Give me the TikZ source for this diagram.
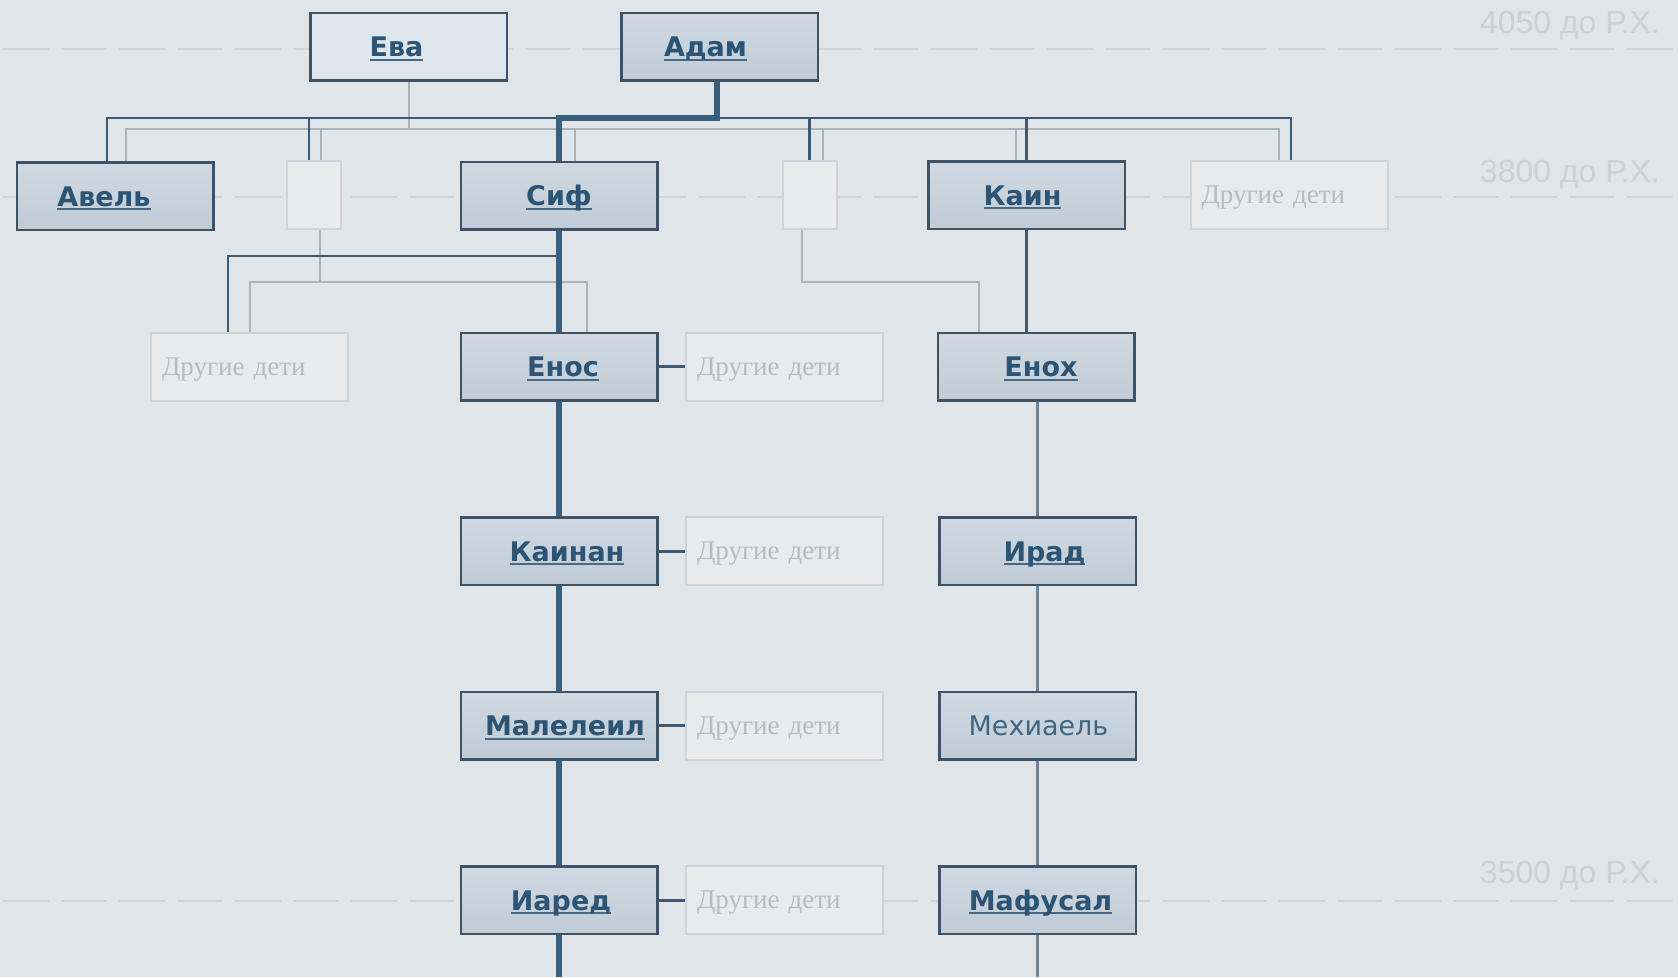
\documentclass[tikz,border=0pt]{standalone}
\usepackage{fontspec}
\newfontfamily\boxfont{DejaVu Sans}
\newfontfamily\grayfont{Liberation Serif}
\newfontfamily\timefont{Liberation Sans}
\definecolor{bg}{RGB}{224,229,233}
\definecolor{boxtop}{RGB}{208,217,225}
\definecolor{boxbot}{RGB}{192,203,213}
\definecolor{evefill}{RGB}{221,230,236}
\definecolor{boxdraw}{RGB}{62,84,102}
\definecolor{txt}{RGB}{44,85,117}
\definecolor{txtline}{RGB}{70,105,135}
\definecolor{othfill}{RGB}{232,234,236}
\definecolor{othdraw}{RGB}{205,211,216}
\definecolor{othtxt}{RGB}{182,188,194}
\definecolor{lndark}{RGB}{63,90,112}
\definecolor{lnlight}{RGB}{170,180,188}
\definecolor{lnthick}{RGB}{58,95,125}
\definecolor{lngray}{RGB}{112,130,145}
\definecolor{tldash}{RGB}{208,213,217}
\definecolor{tltxt}{RGB}{204,209,213}
\newcommand\ulname[1]{\setbox0\hbox{#1}\rlap{\raisebox{-4pt}{\color{txtline}\rule{\wd0}{1.6pt}}}\box0}
\newcommand\shiftname[2]{\hspace*{#1}#2\hspace*{-#1}}
\tikzset{
  person/.style={draw=boxdraw, line width=2.5pt, top color=boxtop, bottom color=boxbot,
    minimum width=196.5pt, minimum height=67.5pt, inner sep=0pt,
    font=\boxfont\bfseries\fontsize{27}{30}\selectfont, text=txt,
    text height=26pt, text depth=6pt},
  evebox/.style={draw=boxdraw, line width=2.5pt, fill=evefill,
    minimum width=196.5pt, minimum height=67.5pt, inner sep=0pt,
    font=\boxfont\bfseries\fontsize{27}{30}\selectfont, text=txt,
    text height=26pt, text depth=6pt},
  plainperson/.style={person, font=\boxfont\fontsize{27}{30}\selectfont, text=txt!90!white},
  other/.style={draw=othdraw, line width=2pt, fill=othfill,
    minimum width=197pt, minimum height=68pt, inner xsep=11pt, inner ysep=0pt,
    text width=175pt, align=left,
    font=\grayfont\fontsize{27}{30}\selectfont, text=othtxt,
    text height=22.5pt, text depth=5.5pt},
  blank/.style={draw=othdraw, line width=2pt, fill=othfill,
    minimum width=54pt, minimum height=68pt, inner sep=0pt},
  darkln/.style={draw=lndark, line width=2.5pt},
  lightln/.style={draw=lnlight, line width=2pt},
  thickln/.style={draw=lnthick, line width=6.5pt},
  grayln/.style={draw=lngray, line width=2.2pt},
  tick/.style={draw=lndark, line width=3pt},
  tline/.style={draw=tldash, line width=2.5pt, dash pattern=on 46pt off 12pt},
  tlabel/.style={font=\timefont\fontsize{32}{34}\selectfont, text=tltxt, inner sep=0pt, anchor=base east}
}
\begin{document}
\begin{tikzpicture}[x=1pt,y=-1pt]
\useasboundingbox (0,0) rectangle (1678,977);
\fill[bg] (0,0) rectangle (1678,977);
% timeline dashes
\draw[tline] (3,49) -- (1678,49);
\draw[tline] (3,197) -- (1678,197);
\draw[tline] (3,901) -- (1678,901);
\node[tlabel] (t1) at (1660,33) {4050 до Р.Х.};
\node[tlabel] (t2) at (1660,182) {3800 до Р.Х.};
\node[tlabel] (t3) at (1660,883) {3500 до Р.Х.};
% row 1
\node[evebox] (eva) at (408.5,46.5) {\shiftname{-12pt}{\ulname{Ева}}};
\node[person] (adam) at (719.5,46.5) {\shiftname{-14pt}{\ulname{Адам}}};
% row 2
\node[person] (abel) at (115,196) {\shiftname{-11pt}{\ulname{Авель}}};
\node[blank] (sm1) at (314,195) {};
\node[person] (seth) at (559,195.5) {\ulname{Сиф}};
\node[blank] (sm2) at (809.5,195) {};
\node[person] (cain) at (1026.5,195) {\shiftname{-4pt}{\ulname{Каин}}};
\node[other] (ocTop) at (1289,195) {Другие дети};
% row 3
\node[other] (ocL) at (249.5,366.5) {Другие дети};
\node[person] (enos) at (559,366.5) {\shiftname{4pt}{\ulname{Енос}}};
\node[other] (oc3) at (784.5,366.5) {Другие дети};
\node[person] (enoch) at (1036,366.5) {\shiftname{5pt}{\ulname{Енох}}};
% row 4
\node[person] (kainan) at (559,551) {\shiftname{8pt}{\ulname{Каинан}}};
\node[other] (oc4) at (784.5,551) {Другие дети};
\node[person] (irad) at (1037.5,551) {\shiftname{7pt}{\ulname{Ирад}}};
% row 5
\node[person] (mal) at (559,725.5) {\shiftname{6pt}{\ulname{Малелеил}}};
\node[other] (oc5) at (784.5,725.5) {Другие дети};
\node[plainperson] (meh) at (1037.5,725.5) {\shiftname{1pt}{Мехиаель}};
% row 6
\node[person] (iared) at (559,900) {\shiftname{2pt}{\ulname{Иаред}}};
\node[other] (oc6) at (784.5,900) {Другие дети};
\node[person] (maf) at (1037.5,900) {\shiftname{3pt}{\ulname{Мафусал}}};
% coordinates
\coordinate (dbusL) at (107,118);
\coordinate (dbusR) at (1291,118);
\coordinate (lbusL) at (126,129);
\coordinate (lbusR) at (1279,129);
\coordinate (d2) at (228,256);
\coordinate (l2L) at (250,282);
\coordinate (l2R) at (587,282);
\coordinate (l3) at (979,282);
\coordinate (bottomc) at (0,977);
% light bus
\draw[lightln] (abel.north -| lbusL) -- (lbusL) -- (lbusR) -- (lbusR |- ocTop.north);
\draw[lightln] (eva.south) -- (eva.south |- lbusL);
\draw[lightln] ([xshift=7pt]sm1.north) -- ([xshift=7pt]sm1.north |- lbusL);
\draw[lightln] ([xshift=16pt]seth.north) -- ([xshift=16pt]seth.north |- lbusL);
\draw[lightln] ([xshift=13.5pt]sm2.north) -- ([xshift=13.5pt]sm2.north |- lbusL);
\draw[lightln] ([xshift=-10.5pt]cain.north) -- ([xshift=-10.5pt]cain.north |- lbusL);
% dark bus
\draw[darkln] (abel.north -| dbusL) -- (dbusL) -- (dbusR) -- (dbusR |- ocTop.north);
\draw[darkln] ([xshift=-5pt]sm1.north) -- ([xshift=-5pt]sm1.north |- dbusL);
\draw[darkln] (sm2.north) -- (sm2.north |- dbusL);
\draw[darkln] (cain.north) -- (cain.north |- dbusL);
% Adam to Seth
\draw[thickln] ([xshift=-2.5pt]adam.south) -- ([xshift=-2.5pt]adam.south |- dbusL) -| (seth.north);
% second level
\draw[lightln] ([xshift=6pt]sm1.south) -- ([xshift=6pt]sm1.south |- l2L);
\draw[lightln] (ocL.north -| l2L) -- (l2L) -- (l2R) -- (l2R |- enos.north);
\draw[darkln] (seth.south |- d2) -- (d2) -- (d2 |- ocL.north);
\draw[lightln] ([xshift=-7.5pt]sm2.south) |- (l3) -- (l3 |- enoch.north);
\draw[darkln] (cain.south) -- (cain.south |- enoch.north);
% Seth line
\draw[thickln] (seth.south) -- (enos.north);
\draw[thickln] (enos.south) -- (kainan.north);
\draw[thickln] (kainan.south) -- (mal.north);
\draw[thickln] (mal.south) -- (iared.north);
\draw[thickln] (iared.south) -- (iared.south |- bottomc);
% Cain line
\draw[grayln] (enoch.south -| irad.south) -- (irad.north);
\draw[grayln] (irad.south) -- (meh.north);
\draw[grayln] (meh.south) -- (maf.north);
\draw[grayln] (maf.south) -- (maf.south |- bottomc);
% other children ticks
\draw[tick] (enos.east) -- (oc3.west);
\draw[tick] (kainan.east) -- (oc4.west);
\draw[tick] (mal.east) -- (oc5.west);
\draw[tick] (iared.east) -- (oc6.west);
\end{tikzpicture}
\end{document}
